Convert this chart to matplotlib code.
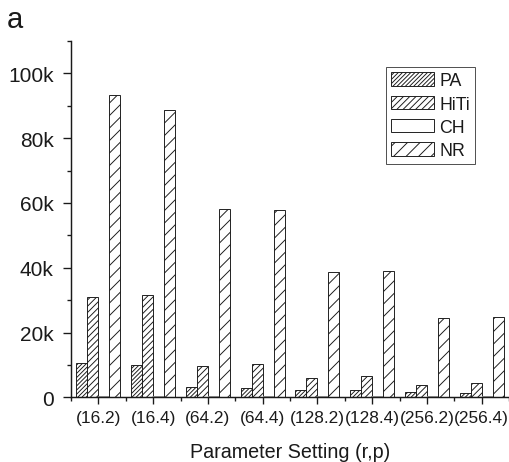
import matplotlib
matplotlib.use("Agg")
import matplotlib.pyplot as plt
import numpy as np
from matplotlib.ticker import MultipleLocator, FuncFormatter

categories = ["(16.2)", "(16.4)", "(64.2)", "(64.4)", "(128.2)", "(128.4)", "(256.2)", "(256.4)"]
PA = [10500, 9900, 3200, 2800, 2200, 2200, 1700, 1400]
HiTi = [30900, 31500, 9600, 10300, 5900, 6500, 3800, 4300]
CH = [300, 300, 300, 300, 300, 300, 300, 300]
NR = [93300, 88700, 58000, 57700, 38700, 39100, 24600, 24700]
series_names = ["PA", "HiTi", "CH", "NR"]
hatches = ["//////", "////", "", "//"]

DPI = 75
plt.rcParams['font.family'] = ['Liberation Sans', 'DejaVu Sans']
plt.rcParams['hatch.linewidth'] = 0.9
plt.rcParams['hatch.color'] = '#1a1a1a'

fig = plt.figure(figsize=(509 / DPI, 463 / DPI), dpi=DPI)
ax = fig.add_axes([71 / 509, 1 - 398.3 / 463, 1 - 71 / 509, (398.3 - 42) / 463])

x = np.arange(len(categories))
w = 0.2
all_series = [PA, HiTi, CH, NR]
for i, (vals, name, h) in enumerate(zip(all_series, series_names, hatches)):
    ec = '#1a1a1a' if name != "CH" else '#999999'
    ax.bar(x + (i - 1.5) * w, vals, width=w, facecolor='white', edgecolor=ec,
           hatch=h, linewidth=0.9, label=name, zorder=2)

ax.set_xlim(-0.5, len(categories) - 0.5)
ax.set_ylim(0, 110000)
ax.set_xticks(x)
ax.set_xticklabels(categories, fontsize=16.5, color='#1a1a1a')
ax.xaxis.set_minor_locator(MultipleLocator(1.0, offset=0.5))
ax.yaxis.set_major_locator(MultipleLocator(20000))
ax.yaxis.set_minor_locator(MultipleLocator(10000))
ax.yaxis.set_major_formatter(FuncFormatter(lambda v, p: "0" if v == 0 else f"{int(v/1000)}k"))
ax.tick_params(axis='y', which='major', length=7.7, width=1.3, pad=9, labelsize=20, labelcolor='#1a1a1a', color='#1a1a1a')
ax.tick_params(axis='y', which='minor', length=3.8, width=1.3, color='#1a1a1a')
ax.tick_params(axis='x', which='major', length=6.7, width=1.3, pad=5.5, color='#1a1a1a')
ax.tick_params(axis='x', which='minor', length=3.8, width=1.3, color='#1a1a1a')

for s in ['top', 'right']:
    ax.spines[s].set_visible(False)
for s in ['left', 'bottom']:
    ax.spines[s].set_linewidth(1.4)
    ax.spines[s].set_color('#1a1a1a')

ax.set_xlabel("Parameter Setting (r,p)", fontsize=19, color='#1a1a1a', labelpad=16)

leg = ax.legend(loc='upper left', bbox_to_anchor=(386 / 509, 1 - 68 / 463),
                bbox_transform=fig.transFigure, fontsize=17, frameon=True,
                fancybox=False, handlelength=2.4, handleheight=0.8,
                handletextpad=0.3, labelspacing=0.35, borderpad=0.3,
                borderaxespad=0, labelcolor='#1a1a1a')
leg.get_frame().set_edgecolor('#1a1a1a')
leg.get_frame().set_linewidth(0.9)
for hnd in leg.legend_handles:
    hnd.set_edgecolor('#1a1a1a')

fig.text(7 / 509, 1 - 28 / 463, "a", fontsize=28, color='#1a1a1a', ha='left', va='baseline')

fig.savefig("out.png", dpi=DPI)
